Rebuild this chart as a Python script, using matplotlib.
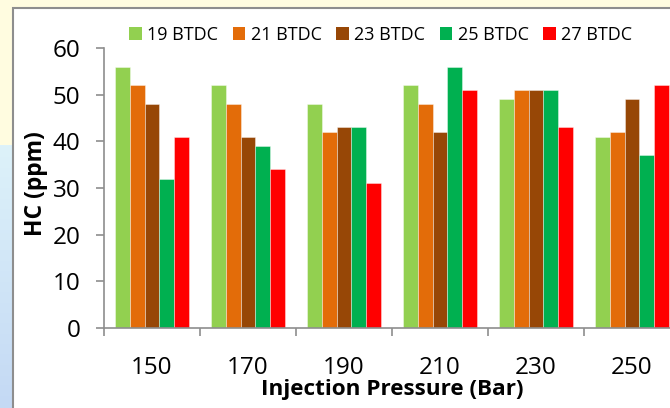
import matplotlib
matplotlib.use("Agg")
import matplotlib.pyplot as plt
import numpy as np
from matplotlib.patches import Rectangle, Patch
from matplotlib.colors import LinearSegmentedColormap

plt.rcParams['font.family'] = ['Open Sans', 'DejaVu Sans']

categories = ['150', '170', '190', '210', '230', '250']
series_names = ['19 BTDC', '21 BTDC', '23 BTDC', '25 BTDC', '27 BTDC']
s19 = [56, 52, 48, 52, 49, 41]
s21 = [52, 48, 42, 48, 51, 42]
s23 = [48, 41, 43, 42, 51, 49]
s25 = [32, 39, 43, 56, 51, 37]
s27 = [41, 34, 31, 51, 43, 52]
series = [s19, s21, s23, s25, s27]
colors = ['#92D050', '#E36C09', '#974706', '#00B050', '#FF0000']

W, H = 670, 408
fig = plt.figure(figsize=(W / 100, H / 100), dpi=100)
fig.patch.set_facecolor('#FFFCE0')

# blue strip at left lower edge (slide background)
bg = fig.add_axes([0, 0, 12 / W, (H - 145) / H], zorder=-3)
grad = np.linspace(0, 1, 100).reshape(-1, 1)
cm = LinearSegmentedColormap.from_list('b', ['#C4D9F4', '#DDF2FA'])
bg.imshow(grad, aspect='auto', cmap=cm, origin='lower')
bg.set_axis_off()

# chart frame
fig.patches.append(Rectangle((13 / W, -0.05), 1.2, (H - 7.5) / H + 0.05,
                             transform=fig.transFigure, facecolor='white',
                             edgecolor='#8E8E8E', linewidth=1.5, zorder=-2))

ax = fig.add_axes([104 / W, 80 / H, 576 / W, 280 / H])
ax.set_facecolor('none')

n = len(series)
x = np.arange(len(categories))
bw = 1 / 6.5
for i, (vals, col, name) in enumerate(zip(series, colors, series_names)):
    ax.bar(x + (i - (n - 1) / 2) * bw, vals, width=bw, color=col,
           edgecolor=(1, 1, 1, 0.45), linewidth=0.6, label=name, zorder=2)

ax.set_xlim(-0.5, len(categories) - 0.5)
ax.set_ylim(0, 60)
ax.set_yticks(range(0, 61, 10))
ax.set_xticks(x)
ax.set_xticklabels(categories)
ax.set_xticks(np.arange(-0.5, len(categories), 1), minor=True)
ax.tick_params(axis='x', which='major', length=0, pad=20, labelsize=17.5)
ax.tick_params(axis='x', which='minor', length=6, width=1.2, color='#8E8E8E', direction='out')
ax.tick_params(axis='y', length=6, width=1.2, color='#8E8E8E', direction='out', pad=11, labelsize=17.5)

for s in ['top', 'right']:
    ax.spines[s].set_visible(False)
for s in ['left', 'bottom']:
    ax.spines[s].set_color('#8E8E8E')
    ax.spines[s].set_linewidth(1.2)

ax.set_xlabel('Injection Pressure (Bar)', fontsize=16.2, fontweight='bold')
ax.xaxis.set_label_coords((392 - 104) / 576, (328 - 379) / 280)
ax.set_ylabel('HC (ppm)', fontsize=16.5, fontweight='bold')
ax.yaxis.set_label_coords((48 - 104) / 576, (328 - 184) / 280)

handles = [Patch(facecolor=c, label=nm) for c, nm in zip(colors, series_names)]
ax.legend(handles=handles, loc='center left', ncol=5, frameon=False,
          bbox_to_anchor=(129 / W, (H - 35) / H), bbox_transform=fig.transFigure,
          fontsize=13, handlelength=0.7, handleheight=0.7,
          handletextpad=0.3, columnspacing=0.8, borderpad=0, borderaxespad=0)

fig.savefig('out.png', dpi=100, facecolor=fig.get_facecolor())
